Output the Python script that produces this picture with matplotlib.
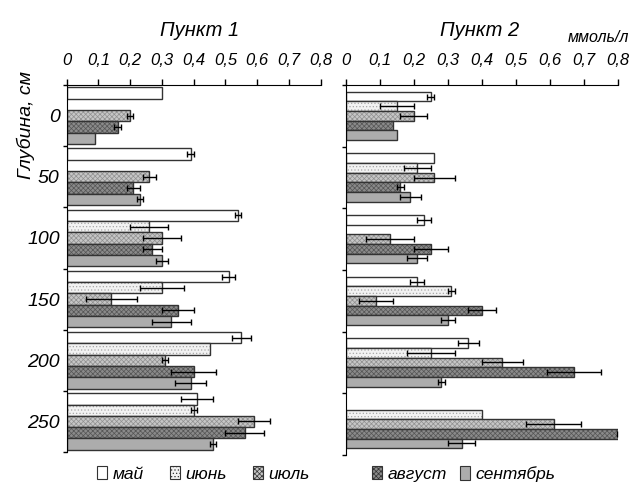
import numpy as np
import matplotlib
matplotlib.use('Agg')
from matplotlib import pyplot as plt
from matplotlib.patches import Patch

plt.rcParams['font.family'] = ['Liberation Sans', 'DejaVu Sans']
plt.rcParams['font.style'] = 'italic'
plt.rcParams['hatch.linewidth'] = 0.5

nan = np.nan
depths = ['0', '50', '100', '150', '200', '250']
months = ['май', 'июнь', 'июль', 'август', 'сентябрь']
xticks = [0, 0.1, 0.2, 0.3, 0.4, 0.5, 0.6, 0.7, 0.8]
xtick_labels = ['0', '0,1', '0,2', '0,3', '0,4', '0,5', '0,6', '0,7', '0,8']

# Пункт 1, rows = months, cols = depths
p1_vals = [
    [0.30, 0.39, 0.54, 0.51, 0.55, 0.41],
    [nan, nan, 0.26, 0.30, 0.45, 0.40],
    [0.20, 0.26, 0.30, 0.14, 0.31, 0.59],
    [0.16, 0.21, 0.27, 0.35, 0.40, 0.56],
    [0.09, 0.23, 0.30, 0.33, 0.39, 0.46],
]
p1_errs = [
    [nan, 0.01, 0.01, 0.02, 0.03, 0.05],
    [nan, nan, 0.06, 0.07, nan, 0.01],
    [0.01, 0.02, 0.06, 0.08, 0.01, 0.05],
    [0.01, 0.02, 0.03, 0.05, 0.07, 0.06],
    [nan, 0.01, 0.02, 0.06, 0.05, 0.01],
]
# Пункт 2
p2_vals = [
    [0.25, 0.26, 0.23, 0.21, 0.36, nan],
    [0.15, 0.21, nan, 0.31, 0.25, 0.40],
    [0.20, 0.26, 0.13, 0.09, 0.46, 0.61],
    [0.14, 0.16, 0.25, 0.40, 0.67, 0.80],
    [0.15, 0.19, 0.21, 0.30, 0.28, 0.34],
]
p2_errs = [
    [0.01, nan, 0.02, 0.02, 0.03, nan],
    [0.05, 0.04, nan, 0.01, 0.07, nan],
    [0.04, 0.06, 0.07, 0.05, 0.06, 0.08],
    [nan, 0.01, 0.05, 0.04, 0.08, 0.005],
    [nan, 0.03, 0.03, 0.02, 0.01, 0.04],
]

faces = ['white', '#f2f2f2', '#c6c6c6', '#8a8a8a', '#acacac']
hatches = [None, '.....', 'xxxxxxx', 'xxxxxxx', None]
hatch_cols = ['white', '#a8a8a8', '#909090', '#555555', '#acacac']


def draw_panel(ax, vals, errs, h):
    y = np.arange(len(depths))
    for j in range(len(months)):
        pos = y - 2 * h + j * h
        v = np.array(vals[j], dtype=float)
        e = np.array(errs[j], dtype=float)
        ax.barh(pos, v, height=h, color=faces[j], hatch=hatches[j],
                edgecolor=hatch_cols[j], linewidth=0)
        ax.barh(pos, v, height=h, fill=False, edgecolor='#333333', linewidth=1)
        ax.errorbar(v, pos, xerr=e, fmt='none', ecolor='black',
                    elinewidth=1, capsize=2.5, capthick=1)
    ax.set_xlim(0, 0.8)
    ax.set_ylim(len(depths) - 0.5, -0.5)
    ax.xaxis.tick_top()
    ax.set_xticks(xticks)
    ax.set_xticklabels(xtick_labels, fontsize=12)
    ax.tick_params(axis='x', direction='out', length=4, pad=8, width=1)
    ax.set_yticks(np.arange(-0.5, len(depths)), minor=True)
    ax.tick_params(axis='y', which='minor', direction='out', length=3, width=1)
    ax.spines['right'].set_visible(False)
    ax.spines['bottom'].set_visible(False)


fig = plt.figure(figsize=(6.39, 4.83), dpi=100)
ax1 = fig.add_axes([0.1044, 0.064, 0.3975, 0.760])
ax2 = fig.add_axes([0.541, 0.058, 0.4266, 0.766])

draw_panel(ax1, p1_vals, p1_errs, 0.185)
draw_panel(ax2, p2_vals, p2_errs, 0.156)

ax1.set_yticks(np.arange(len(depths)))
ax1.set_yticklabels(depths, fontsize=14)
ax1.tick_params(axis='y', which='major', length=0, pad=5)
ax2.set_yticks([])

fig.text(26 / 639, 1 - 125 / 483, 'Глубина, см', fontsize=14, rotation=90,
         ha='center', va='center')
fig.text(200 / 639, 1 - 30 / 483, 'Пункт 1', fontsize=14.5, ha='center', va='center')
fig.text(480 / 639, 1 - 30 / 483, 'Пункт 2', fontsize=14.5, ha='center', va='center')
fig.text(598 / 639, 1 - 37 / 483, 'ммоль/л', fontsize=11.5, ha='center', va='center')

leg_x = [97, 170, 253, 372, 460]
for j in range(len(months)):
    h = Patch(facecolor=faces[j], hatch=hatches[j], edgecolor='#333333', linewidth=0.8)
    fig.legend(handles=[h], labels=[months[j]], loc='center left',
               bbox_to_anchor=(leg_x[j] / 639, 1 - 474 / 483), frameon=False,
               fontsize=12.5, handlelength=0.55, handleheight=0.8,
               handletextpad=0.35, borderpad=0, borderaxespad=0)

fig.savefig('out.png', dpi=100)
